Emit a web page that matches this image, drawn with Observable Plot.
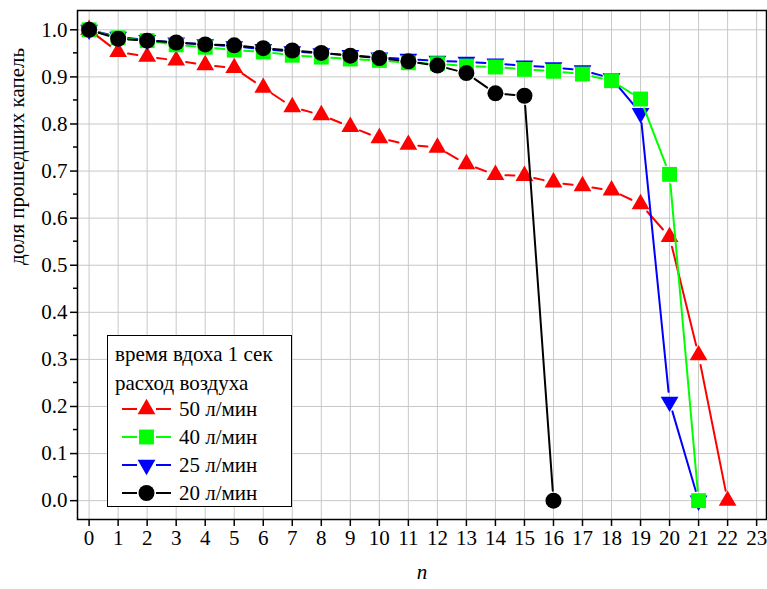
<!DOCTYPE html>
<html>
<head>
<meta charset="utf-8">
<script src="https://cdn.jsdelivr.net/npm/d3@7"></script>
<script src="https://cdn.jsdelivr.net/npm/@observablehq/plot@0.6"></script>
</head>
<body style="margin:0;background:#fff">
<div id="wrap" style="position:relative;width:767px;height:589px"></div>
<script>
// ---- data ----
const seriesNames = ["50 л/мин", "40 л/мин", "25 л/мин", "20 л/мин"];
const seriesColors = ["#ff0000", "#00ff00", "#0000ff", "#000000"];
const seriesSymbols = ["triangle", "square", "triangle", "circle"];
const seriesRotate = [0, 0, 180, 0];
const legendTitle1 = "время вдоха 1 сек";
const legendTitle2 = "расход воздуха";
const xTicks = d3.range(0, 24);
const yTicks = [0, 0.1, 0.2, 0.3, 0.4, 0.5, 0.6, 0.7, 0.8, 0.9, 1.0];
const yMinorTicks = [0.05, 0.15, 0.25, 0.35, 0.45, 0.55, 0.65, 0.75, 0.85, 0.95];
const xLabel = "n";
const yLabel = "доля прошедших капель";

const red50 = [1.0, 0.953, 0.943, 0.935, 0.925, 0.919, 0.877, 0.836, 0.819, 0.794, 0.770, 0.756, 0.750, 0.715, 0.692, 0.690, 0.676, 0.668, 0.659, 0.630, 0.560, 0.309, 0.0];
const green40 = [1.0, 0.983, 0.977, 0.968, 0.963, 0.957, 0.953, 0.946, 0.942, 0.938, 0.935, 0.930, 0.928, 0.923, 0.921, 0.916, 0.912, 0.906, 0.892, 0.853, 0.693, 0.0];
const blue25 = [1.0, 0.985, 0.978, 0.973, 0.969, 0.965, 0.959, 0.954, 0.950, 0.946, 0.941, 0.938, 0.934, 0.932, 0.928, 0.924, 0.920, 0.914, 0.897, 0.823, 0.210, 0.0];
const black20 = [1.0, 0.981, 0.977, 0.973, 0.969, 0.967, 0.961, 0.956, 0.951, 0.945, 0.940, 0.933, 0.924, 0.908, 0.865, 0.860, 0.0];

const seriesValues = [red50, green40, blue25, black20];
// drawing order: red, blue, green, black
const drawOrder = [0, 2, 1, 3];
const symbolR = [6.6, 8.4, 6.6, 8];

const font = "'Liberation Serif', 'Times New Roman', serif";

const marks = [
  Plot.gridX(xTicks, {stroke: "#c8c8c8", strokeOpacity: 1, strokeWidth: 1}),
  Plot.gridY(yTicks, {stroke: "#c8c8c8", strokeOpacity: 1, strokeWidth: 1}),
  Plot.axisX(xTicks, {tickSize: 7, tickPadding: 4, fill: "#000", strokeWidth: 1.5, label: null}),
  Plot.axisY(yTicks, {tickSize: 7, tickPadding: 3, fill: "#000", strokeWidth: 1.5, tickFormat: d3.format(".1f"), label: null}),
  Plot.tickY(yMinorTicks, {y: d => d, render: (index, scales, values, dims) => {
    const g = d3.create("svg:g");
    for (const i of index) {
      g.append("line").attr("x1", dims.marginLeft - 4).attr("x2", dims.marginLeft)
        .attr("y1", values.y[i]).attr("y2", values.y[i]).attr("stroke", "#000").attr("stroke-width", 1.5);
    }
    return g.node();
  }})
];

for (const s of drawOrder) {
  const vals = seriesValues[s];
  const segs = vals.slice(0, -1).map((v, i) => ({x1: i, y1: v, x2: i + 1, y2: vals[i + 1]}));
  marks.push(Plot.arrow(segs, {x1: "x1", y1: "y1", x2: "x2", y2: "y2", stroke: seriesColors[s], strokeWidth: 2, headLength: 0, inset: 10}));
  marks.push(Plot.dot(vals.map((v, i) => ({x: i, y: v})), {x: "x", y: "y", r: symbolR[s], symbol: seriesSymbols[s], rotate: seriesRotate[s], fill: seriesColors[s], stroke: "none"}));
}

marks.push(Plot.frame({stroke: "#000", strokeWidth: 1.5}));
marks.push(Plot.text([xLabel], {frameAnchor: "bottom", dy: 59, text: d => d, fontSize: 21, fontStyle: "italic", fill: "#000"}));
marks.push(Plot.text([yLabel], {frameAnchor: "left", dx: -60, rotate: -90, text: d => d, fontSize: 21, fill: "#000"}));

const chart = Plot.plot({
  width: 767,
  height: 589,
  marginLeft: 77,
  marginRight: 1,
  marginTop: 10,
  marginBottom: 70,
  x: {domain: [-0.4, 23.34]},
  y: {domain: [-0.04, 1.041]},
  style: {fontFamily: font, fontSize: "21px", background: "#fff"},
  marks
});
const wrap = document.getElementById("wrap");
wrap.appendChild(chart);

// legend (inside plot area), inline styles only
const legend = document.createElement("div");
Object.assign(legend.style, {position: "absolute", left: "107px", top: "335px", width: "185px", height: "172px",
  border: "1px solid #000", background: "#fff", boxSizing: "border-box", fontFamily: font, fontSize: "21px", color: "#000"});
wrap.appendChild(legend);
function addText(top, txt) {
  const d = document.createElement("div");
  Object.assign(d.style, {position: "absolute", left: "7px", top: top + "px", fontFamily: font, fontSize: "21px", lineHeight: "21px", whiteSpace: "nowrap"});
  d.textContent = txt; legend.appendChild(d);
}
addText(8, legendTitle1);
addText(37, legendTitle2);
const symMap = {triangle: d3.symbolTriangle, square: d3.symbolSquare, circle: d3.symbolCircle};
seriesNames.forEach((name, k) => {
  const ent = document.createElement("div");
  Object.assign(ent.style, {position: "absolute", left: "13px", top: (61 + k * 28) + "px", height: "24px", display: "flex", alignItems: "center",
    fontFamily: font, fontSize: "21px", lineHeight: "24px", whiteSpace: "nowrap"});
  const svg = d3.create("svg").attr("width", 52).attr("height", 24).style("margin-right", "6px");
  svg.append("line").attr("x1", 1).attr("x2", 16).attr("y1", 12).attr("y2", 12).attr("stroke", seriesColors[k]).attr("stroke-width", 2);
  svg.append("line").attr("x1", 35).attr("x2", 50).attr("y1", 12).attr("y2", 12).attr("stroke", seriesColors[k]).attr("stroke-width", 2);
  const r = symbolR[k];
  svg.append("path").attr("d", d3.symbol(symMap[seriesSymbols[k]], r * r * Math.PI)())
    .attr("transform", `translate(25.5,12) rotate(${seriesRotate[k]})`).attr("fill", seriesColors[k]);
  ent.appendChild(svg.node());
  const t = document.createElement("span");
  t.textContent = name; t.style.fontFamily = font; t.style.fontSize = "21px";
  ent.appendChild(t);
  legend.appendChild(ent);
});
</script>
</body>
</html>
